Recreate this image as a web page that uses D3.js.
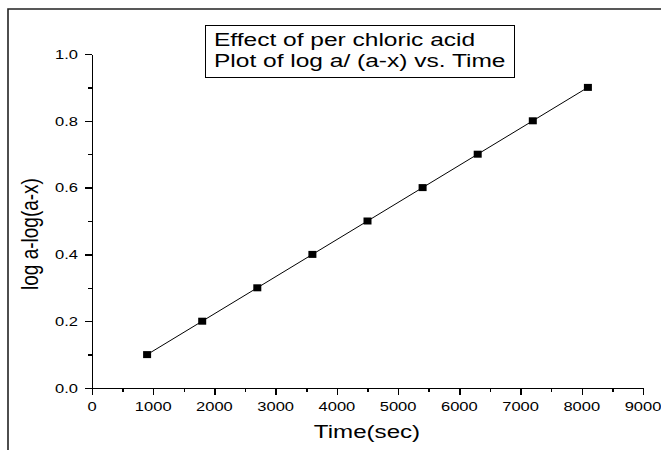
<!DOCTYPE html>
<meta charset="utf-8">
<script src="https://d3js.org/d3.v7.min.js"></script>
<style>
body { margin: 0; background: #fff; }
text { font-family: "Liberation Sans", Arial, sans-serif; fill: #000; }
.axis path, .axis line { stroke: #000; stroke-width: 1.5; shape-rendering: crispEdges; }
</style>
<svg id="chart" width="661" height="450"></svg>
<script>
// data
var timeSec = [900, 1800, 2700, 3600, 4500, 5400, 6300, 7200, 8100];
var logRatio = [0.1, 0.2, 0.3, 0.4, 0.5, 0.6, 0.7, 0.8, 0.9];
var xTicks = [0, 1000, 2000, 3000, 4000, 5000, 6000, 7000, 8000, 9000];
var xMinor = [500, 1500, 2500, 3500, 4500, 5500, 6500, 7500, 8500];
var yTicks = [0.0, 0.2, 0.4, 0.6, 0.8, 1.0];
var yMinor = [0.1, 0.3, 0.5, 0.7, 0.9];
var legendLines = ["Effect of per chloric acid", "Plot of log a/ (a-x) vs. Time"];

var sx = 1.27; // the original picture is stretched sideways

var svg = d3.select("#chart");

var x = d3.scaleLinear().domain([0, 9000]).range([92, 643]);
var y = d3.scaleLinear().domain([0, 1]).range([388, 54]);

// outer frame (top and left only, the rest is cut off)
svg.append("path")
  .attr("d", "M8,450 L8,9 L661,9")
  .attr("fill", "none")
  .attr("stroke", "#222")
  .attr("stroke-width", 1.6);

// axes
svg.append("g").attr("class", "axis")
  .attr("transform", "translate(0," + y(0) + ")")
  .call(d3.axisBottom(x).tickValues(xMinor).tickSize(4).tickSizeOuter(0).tickFormat(""));
svg.append("g").attr("class", "axis")
  .attr("transform", "translate(0," + y(0) + ")")
  .call(d3.axisBottom(x).tickValues(xTicks).tickSize(7).tickSizeOuter(0).tickFormat(""));
svg.append("g").attr("class", "axis")
  .attr("transform", "translate(" + x(0) + ",0)")
  .call(d3.axisLeft(y).tickValues(yMinor).tickSize(4).tickSizeOuter(0).tickFormat(""));
svg.append("g").attr("class", "axis")
  .attr("transform", "translate(" + x(0) + ",0)")
  .call(d3.axisLeft(y).tickValues(yTicks).tickSize(7).tickSizeOuter(0).tickFormat(""));

// tick labels
svg.append("g").selectAll("text")
  .data(xTicks)
  .enter().append("text")
    .attr("transform", function(d){ return "translate(" + x(d) + ",411) scale(" + sx + ",1)"; })
    .attr("text-anchor", "middle")
    .style("font-size", "13px")
    .text(function(d){ return d; });

svg.append("g").selectAll("text")
  .data(yTicks)
  .enter().append("text")
    .attr("transform", function(d){ return "translate(78," + (y(d) + 4.7) + ") scale(" + sx + ",1)"; })
    .attr("text-anchor", "end")
    .style("font-size", "13px")
    .text(function(d){ return d.toFixed(1); });

// axis titles
svg.append("text")
  .attr("transform", "translate(367,438) scale(" + sx + ",1)")
  .attr("text-anchor", "middle")
  .style("font-size", "19px")
  .text("Time(sec)");

svg.append("text")
  .attr("transform", "translate(38,234) scale(" + sx + ",1) rotate(-90)")
  .attr("text-anchor", "middle")
  .style("font-size", "19px")
  .text("log a-log(a-x)");

// line and markers
var pts = timeSec.map(function(t, i){ return [t, logRatio[i]]; });

svg.append("path")
  .datum(pts)
  .attr("fill", "none")
  .attr("stroke", "#000")
  .attr("stroke-width", 1)
  .attr("d", d3.line().x(function(d){ return x(d[0]); }).y(function(d){ return y(d[1]); }));

svg.append("g").selectAll("rect")
  .data(pts)
  .enter().append("rect")
    .attr("x", function(d){ return x(d[0]) - 4; })
    .attr("y", function(d){ return y(d[1]) - 3.5; })
    .attr("width", 8)
    .attr("height", 7)
    .attr("fill", "#000");

// legend box
svg.append("rect")
  .attr("x", 205.5).attr("y", 25.5)
  .attr("width", 309).attr("height", 52)
  .attr("fill", "#fff")
  .attr("stroke", "#000")
  .attr("stroke-width", 1);

svg.append("g").selectAll("text")
  .data(legendLines)
  .enter().append("text")
    .attr("transform", function(d, i){ return "translate(214," + (46 + i * 21) + ") scale(1.34,1)"; })
    .style("font-size", "18.3px")
    .text(function(d){ return d; });
</script>
